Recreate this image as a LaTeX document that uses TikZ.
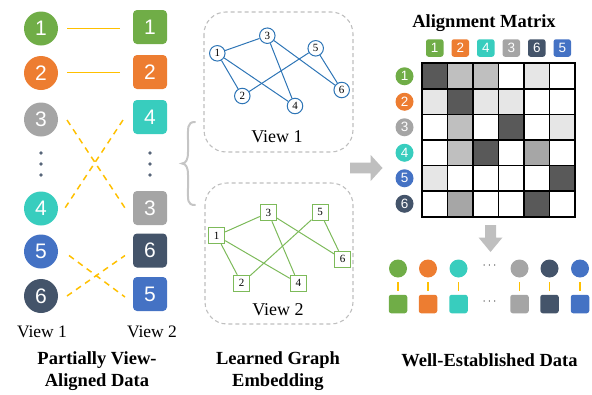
\documentclass[tikz,border=0pt]{standalone}
\usepackage{fontspec}
\setmainfont{Liberation Serif}
\newfontfamily\numfont{Liberation Sans}
\definecolor{cgreen}{HTML}{70AD47}
\definecolor{corange}{HTML}{ED7D31}
\definecolor{cteal}{HTML}{38CDBE}
\definecolor{cgray}{HTML}{A5A5A5}
\definecolor{cnavy}{HTML}{44546A}
\definecolor{cblue}{HTML}{4472C4}
\definecolor{cyellow}{HTML}{FFC000}
\definecolor{gblue}{HTML}{2E75B6}
\definecolor{ggreen}{HTML}{7DBA5A}
\definecolor{boxgray}{HTML}{BFBFBF}
\definecolor{mD}{HTML}{595959}
\definecolor{mM}{HTML}{BFBFBF}
\definecolor{mA}{HTML}{A6A6A6}
\definecolor{mL}{HTML}{E6E6E6}
\definecolor{mW}{HTML}{FFFFFF}
\tikzset{
  bigcirc/.style={circle, fill=#1, draw=none, minimum size=34pt, inner sep=0pt,
    text=white, font=\numfont\fontsize{21}{21}\selectfont},
  bigsq/.style={rectangle, rounded corners=4pt, fill=#1, draw=none, minimum size=34pt,
    inner sep=0pt, text=white, font=\numfont\fontsize{21}{21}\selectfont},
  smcirc/.style={circle, fill=#1, draw=none, minimum size=18pt, inner sep=0pt,
    text=white, font=\numfont\fontsize{13.5}{13.5}\selectfont},
  smsq/.style={rectangle, rounded corners=2.5pt, fill=#1, draw=none, minimum size=17.5pt,
    inner sep=0pt, text=white, font=\numfont\fontsize{13.5}{13.5}\selectfont},
  yline/.style={draw=cyellow, line width=1.6pt},
  ydash/.style={draw=cyellow, line width=1.5pt, dash pattern=on 6pt off 5pt},
  gcirc/.style={circle, draw=gblue, fill=white, line width=1pt, minimum size=15.5pt,
    inner sep=0pt, font=\fontsize{11}{11}\selectfont},
  gsq/.style={rectangle, draw=ggreen, fill=white, line width=1pt, minimum size=16pt,
    inner sep=0pt, font=\fontsize{11}{11}\selectfont},
  bedge/.style={draw=gblue, line width=1pt},
  gedge/.style={draw=ggreen, line width=1pt},
  viewbox/.style={draw=boxgray, line width=1.1pt, dash pattern=on 4pt off 3pt,
    rounded corners=22pt},
  title/.style={font=\bfseries\fontsize{18.5}{21.5}\selectfont, align=center},
  viewlbl/.style={font=\fontsize{18}{18}\selectfont},
  dotmark/.style={circle, fill=#1, inner sep=0pt, minimum size=3.6pt},
  cell/.style={rectangle, draw=black, line width=1.1pt, minimum size=25.5pt, inner sep=0pt, fill=#1},
  bigarrow/.style={fill=boxgray, draw=none},
}
\begin{document}
\begin{tikzpicture}[x=1pt, y=-1pt]
\useasboundingbox (0,0) rectangle (592,394);

% ---------- partially view-aligned data ----------
\node[bigcirc=cgreen]  (l1) at (41,28.5) {1};
\node[bigcirc=corange] (l2) at (41,73) {2};
\node[bigcirc=cgray]   (l3) at (41,119.5) {3};
\node[bigcirc=cteal]   (l4) at (41,208.5) {4};
\node[bigcirc=cblue]   (l5) at (41,251.5) {5};
\node[bigcirc=cnavy]   (l6) at (41,296) {6};

\node[bigsq=cgreen]  (r1) at (150,27) {1};
\node[bigsq=corange] (r2) at (150,72) {2};
\node[bigsq=cteal]   (r4) at (150,117) {4};
\node[bigsq=cgray]   (r3) at (150,208) {3};
\node[bigsq=cnavy]   (r6) at (150,250.5) {6};
\node[bigsq=cblue]   (r5) at (150,294) {5};

\foreach \yy [count=\i] in {153,164,175}{
  \node[dotmark=cnavy!90] (ld\i) at (41,\yy) {};
  \node[dotmark=cnavy!90] (rd\i) at (150,\yy) {};
}

% aligned pairs (solid) and shuffled pairs (dashed)
\draw[yline] (l1) ++(26,0) coordinate (s1a) -- ++(53,0) coordinate (s1b);
\draw[yline] (l2) ++(26,-0.5) coordinate (s2a) -- ++(53,0) coordinate (s2b);
\draw[ydash] (67,120) coordinate (x1) -- (125,208) coordinate (x2);
\draw[ydash] (123,120) coordinate (x3) -- (65,208) coordinate (x4);
\draw[ydash] (69,255.5) coordinate (x5) -- (125,297) coordinate (x6);
\draw[ydash] (67,296) coordinate (x7) -- (125,255.5) coordinate (x8);

\node[font=\fontsize{17.5}{17.5}\selectfont] (v1l) at (42,332) {View 1};
\node[font=\fontsize{17.5}{17.5}\selectfont] (v2l) at (152,332) {View 2};
\node[title] (t1) at (97,371) {Partially View-\\Aligned Data};

% brace
\draw[draw=boxgray!90, line width=2pt, line cap=round]
  (195,122) .. controls (187,122) and (188,128) .. (188,140)
  -- (188,152) .. controls (188,160) and (186,163) .. (182,163.5)
  .. controls (186,164) and (188,167) .. (188,175)
  -- (188,188) .. controls (188,200) and (187,205) .. (195,205);

% ---------- learned graph embedding ----------
\draw[viewbox] (204,12) rectangle (353,152);
\draw[viewbox] (205,183) rectangle (353,324);

\node[gcirc] (a1) at (217.3,53.3) {1};
\node[gcirc] (a3) at (267.3,35.7) {3};
\node[gcirc] (a5) at (315.7,48.3) {5};
\node[gcirc] (a2) at (242.3,96) {2};
\node[gcirc] (a4) at (295,106) {4};
\node[gcirc] (a6) at (341.7,90) {6};
\foreach \p/\q in {a1/a3,a1/a2,a1/a4,a3/a4,a3/a6,a5/a2,a5/a6}
  \draw[bedge] (\p) -- (\q);
\node[viewlbl] (vb1) at (277,137) {View 1};

\node[gsq] (b1) at (216.7,235.7) {1};
\node[gsq] (b3) at (268.3,212.7) {3};
\node[gsq] (b5) at (320,212) {5};
\node[gsq] (b2) at (241.7,283.3) {2};
\node[gsq] (b4) at (298.3,283.3) {4};
\node[gsq] (b6) at (342.7,259.3) {6};
\foreach \p/\q in {b1/b3,b1/b2,b1/b4,b3/b4,b3/b6,b5/b2,b5/b6}
  \draw[gedge] (\p) -- (\q);
\node[viewlbl] (vb2) at (278,310) {View 2};

\node[title] (t2) at (278,371) {Learned Graph\\Embedding};

% arrow to the matrix
\path[bigarrow] (350,162.7) -- (370.7,162.7) -- (370.7,155) -- (382.5,168)
  -- (370.7,181) -- (370.7,173.3) -- (350,173.3) -- cycle;

% ---------- alignment matrix ----------
\node[title] (mt) at (484,23.5) {Alignment Matrix};

\foreach \rowcols [count=\r] in {
  {mD,mM,mM,mW,mL,mW},
  {mL,mD,mL,mL,mW,mW},
  {mW,mM,mW,mD,mW,mL},
  {mW,mM,mD,mW,mA,mW},
  {mL,mW,mW,mW,mW,mD},
  {mW,mA,mW,mW,mD,mW}}{
  \foreach \cc [count=\c] in \rowcols {
    \node[cell=\cc] (m\r\c) at ({422+25.5*(\c-0.5)},{63.5+25.5*(\r-0.5)}) {};
  }
}
\draw[black, line width=1.4pt] (m11.north west) rectangle (m66.south east);

\foreach \lab/\col [count=\c] in {1/cgreen,2/corange,4/cteal,3/cgray,6/cnavy,5/cblue}
  \node[smsq=\col] (h\c) at ({422+25.5*(\c-0.5)},48) {\lab};
\foreach \lab/\col [count=\r] in {1/cgreen,2/corange,3/cgray,4/cteal,5/cblue,6/cnavy}
  \node[smcirc=\col] (v\r) at (404.5,{63.5+25.5*(\r-0.5)}) {\lab};

% arrow down
\path[bigarrow] (485,225) -- (496,225) -- (496,237.5) -- (502.5,237.5) -- (490.5,252)
  -- (478.5,237.5) -- (485,237.5) -- cycle;

% ---------- well-established data ----------
\foreach \xx/\col [count=\k] in {398/cgreen,428/corange,458.5/cteal,519.5/cgray,549.5/cnavy,580/cblue}{
  \node[smcirc=\col] (wc\k) at (\xx,268.5) {};
  \node[smsq=\col, minimum size=18.5pt] (ws\k) at (\xx,304) {};
  \draw[yline, line width=1.4pt, shorten <=4.5pt, shorten >=4pt] (wc\k) -- (ws\k);
}
\node[font=\fontsize{12}{12}\selectfont, text=black!80] (wd1) at (489.5,266) {$\cdots$};
\node[font=\fontsize{12}{12}\selectfont, text=black!80] (wd2) at (489.5,302) {$\cdots$};

\node[title] (t3) at (489.5,360) {Well-Established Data};
\end{tikzpicture}
\end{document}
